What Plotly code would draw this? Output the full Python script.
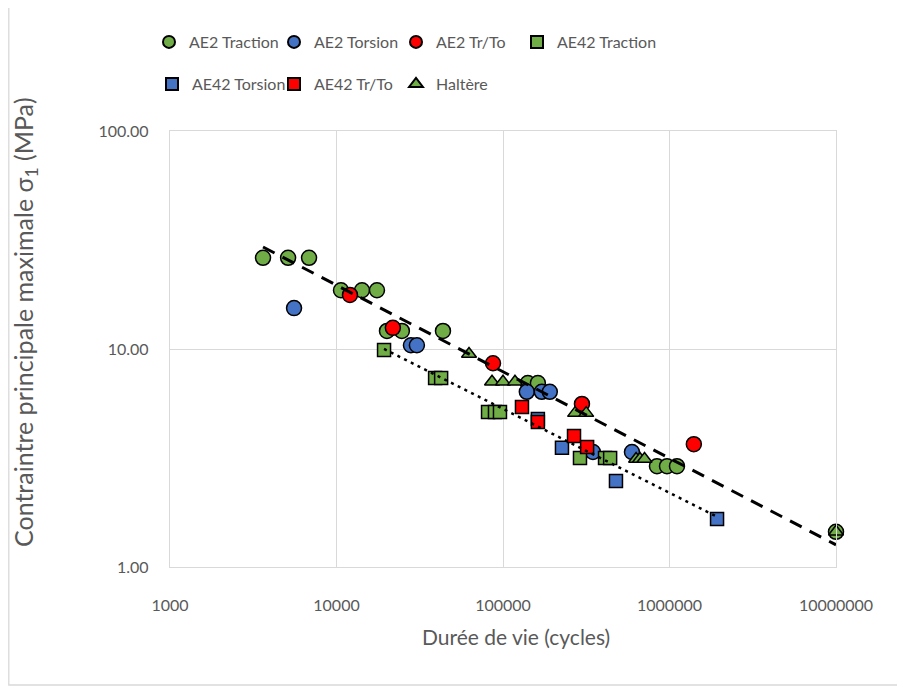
import numpy as np
import plotly.graph_objects as go

# ---- data ----
ae2_traction_x = [3620, 5120, 6840, 10640, 14230, 17500, 20100, 24700, 43600, 141000, 162000, 841000, 966000, 1109000, 10000000]
ae2_traction_y = [26.2, 26.2, 26.2, 18.6, 18.6, 18.6, 12.1, 12.1, 12.1, 6.98, 6.98, 2.9, 2.9, 2.9, 1.45]

ae2_torsion_x = [5560, 28000, 30400, 139000, 171000, 191000, 347000, 595000]
ae2_torsion_y = [15.4, 10.4, 10.4, 6.36, 6.36, 6.36, 3.37, 3.37]

ae2_trto_x = [12050, 21800, 87100, 298000, 1400000]
ae2_trto_y = [17.7, 12.5, 8.6, 5.6, 3.66]

ae42_traction_x = [19300, 39100, 42500, 81300, 89500, 95900, 290000, 410000, 440000]
ae42_traction_y = [9.9, 7.36, 7.36, 5.14, 5.14, 5.14, 3.16, 3.16, 3.16]

ae42_torsion_x = [162000, 226000, 477000, 1930000]
ae42_torsion_y = [4.77, 3.52, 2.48, 1.66]

ae42_trto_x = [130000, 162000, 267000, 320000]
ae42_trto_y = [5.42, 4.62, 3.99, 3.55]

haltere_x = [62500, 85900, 100000, 118000, 271000, 316000, 630000, 665000, 708000, 10000000]
haltere_y = [9.48, 7.07, 7.07, 7.07, 5.08, 5.08, 3.13, 3.13, 3.13, 1.45]

# power trendlines y = A * x^b  (Excel-style trendline equations)
trend_ae2_A, trend_ae2_b = 760.0, -0.397
trend_ae2_xrange = [3620, 10000000]
trend_ae42_A, trend_ae42_b = 447.0, -0.385
trend_ae42_xrange = [19300, 1930000]

x_tickvals = [1000, 10000, 100000, 1000000, 10000000]
x_ticktext = ["1000", "10000", "100000", "1000000", "10000000"]
y_tickvals = [1, 10, 100]
y_ticktext = ["1.00", "10.00", "100.00"]

x_title = "Durée de vie (cycles)"
y_title = "Contraintre principale maximale σ<sub>1</sub> (MPa)"

# ---- styles / layout geometry ----
GREEN = "#70AD47"
BLUE = "#4472C4"
RED = "#FF0000"
TXT = "#595959"
GRID = "#D9D9D9"
FONT = "Lato"

W, H = 897, 678          # page adds an 8px body margin
ML, MT, PW, PH = 162, 123, 666, 436
MR = W - ML - PW
MB = H - MT - PH

def px_to_paper_x(px):   # px in page coordinates (plot left = 170)
    return (px - 170) / PW

def px_to_paper_y(py):   # py in page coordinates (plot bottom = 567)
    return (567 - py) / PH

fig = go.Figure()

# last tuple: (legend text start x, legend row centre y) in page pixels
series = [
    (ae2_traction_x, ae2_traction_y, "AE2 Traction", GREEN, "circle", 15, (186, 42)),
    (ae2_torsion_x, ae2_torsion_y, "AE2 Torsion", BLUE, "circle", 15, (311, 42)),
    (ae2_trto_x, ae2_trto_y, "AE2 Tr/To", RED, "circle", 15, (433, 42)),
    (ae42_traction_x, ae42_traction_y, "AE42 Traction", GREEN, "square", 13, (554, 42)),
    (ae42_torsion_x, ae42_torsion_y, "AE42 Torsion", BLUE, "square", 13, (189, 84)),
    (ae42_trto_x, ae42_trto_y, "AE42 Tr/To", RED, "square", 13, (311, 84)),
    (haltere_x, haltere_y, "Haltère", GREEN, "triangle-up", 13, (433, 84)),
]

legends = {}
for i, (x, y, name, color, symbol, size, (lx, ly)) in enumerate(series):
    lname = "legend" if i == 0 else f"legend{i + 1}"
    fig.add_trace(go.Scatter(
        x=x, y=y, mode="markers", name=name, legend=lname, cliponaxis=False,
        marker=dict(color=color, symbol=symbol, size=size,
                    line=dict(color="black", width=1.5)),
    ))
    legends[lname] = dict(
        orientation="h", xanchor="left", yanchor="middle",
        x=px_to_paper_x(lx - 37), y=px_to_paper_y(ly),
        font=dict(family=FONT, size=16, color=TXT),
        itemsizing="constant", bgcolor="rgba(0,0,0,0)",
    )

def trend(A, b, xr):
    lx = np.linspace(np.log10(xr[0]), np.log10(xr[1]), 50)
    xs = 10 ** lx
    return xs, A * xs ** b

tx, ty = trend(trend_ae2_A, trend_ae2_b, trend_ae2_xrange)
fig.add_trace(go.Scatter(x=tx, y=ty, mode="lines", showlegend=False, cliponaxis=False,
                         line=dict(color="black", width=3, dash="13px,9px")))
tx, ty = trend(trend_ae42_A, trend_ae42_b, trend_ae42_xrange)
fig.add_trace(go.Scatter(x=tx, y=ty, mode="lines", showlegend=False, cliponaxis=False,
                         line=dict(color="black", width=2.5, dash="3px,4.5px")))

fig.update_layout(
    width=W, height=H,
    margin=dict(l=ML, r=MR, t=MT, b=MB),
    paper_bgcolor="white", plot_bgcolor="white",
    font=dict(family=FONT, color=TXT),
    xaxis=dict(
        type="log", range=[3, 7],
        tickvals=x_tickvals, ticktext=x_ticktext,
        tickfont=dict(family=FONT, size=16, color=TXT),
        showgrid=True, gridcolor=GRID, gridwidth=1.3,
        showline=True, linecolor=GRID, linewidth=1.3, mirror=True,
        zeroline=False, ticks="", ticklabelstandoff=24,
    ),
    yaxis=dict(
        type="log", range=[0, 2],
        tickvals=y_tickvals, ticktext=y_ticktext,
        tickfont=dict(family=FONT, size=16, color=TXT),
        showgrid=True, gridcolor=GRID, gridwidth=1.3,
        showline=True, linecolor=GRID, linewidth=1.3, mirror=True,
        zeroline=False, ticks="", ticklabelstandoff=17,
    ),
    annotations=[
        dict(text=x_title, xref="paper", yref="paper",
             x=px_to_paper_x(516), y=px_to_paper_y(636),
             xanchor="center", yanchor="middle", showarrow=False,
             font=dict(family=FONT, size=21, color=TXT)),
        dict(text=y_title, xref="paper", yref="paper", textangle=-90,
             x=px_to_paper_x(25), y=px_to_paper_y(322),
             xanchor="center", yanchor="middle", showarrow=False,
             font=dict(family=FONT, size=25, color=TXT)),
    ],
    shapes=[dict(type="rect", xref="paper", yref="paper",
                 x0=(0.8 - ML) / PW, x1=(W + 20 - ML) / PW,
                 y0=(MT + PH - 677) / PH, y1=(MT + PH + 20) / PH,
                 line=dict(color=GRID, width=1.3), fillcolor="rgba(0,0,0,0)", layer="below")],
    **legends,
)

fig.write_html("out.html")
